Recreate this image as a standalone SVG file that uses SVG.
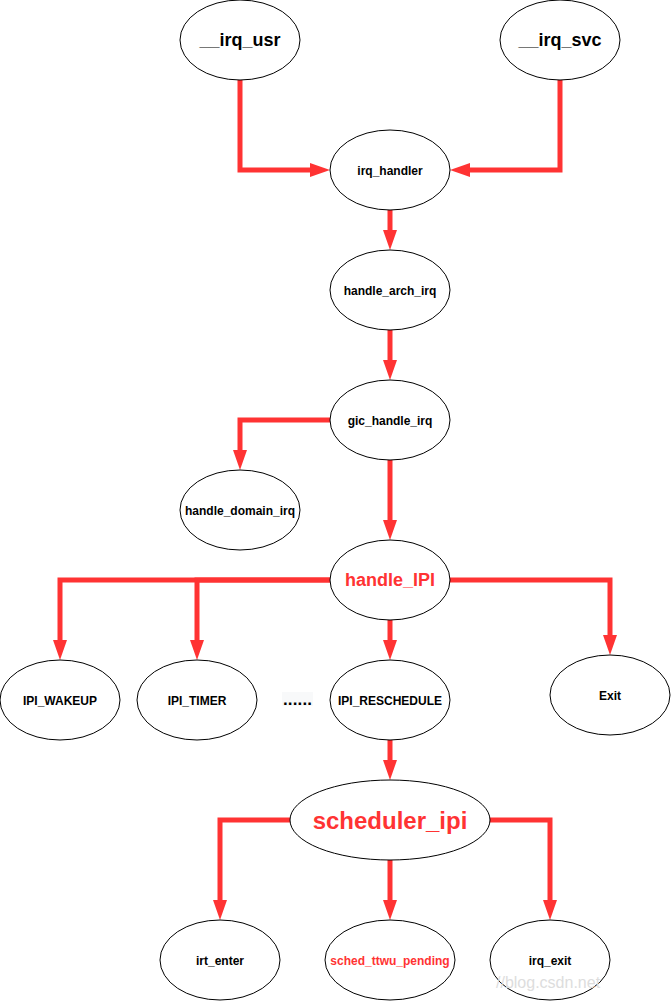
<svg xmlns="http://www.w3.org/2000/svg" width="671" height="1001" viewBox="0 0 671 1001">
<style>
.n{fill:#ffffff;stroke:#000000;stroke-width:1}
.t{font-family:"Liberation Sans",Arial,sans-serif;font-weight:bold;font-size:12px;fill:#000000;text-anchor:middle}
.big{font-size:18px}
.red{fill:#FF3333}
.e{fill:none;stroke:#FF3333;stroke-width:5;marker-end:url(#ah)}
</style>
<defs>
<marker id="ah" markerUnits="userSpaceOnUse" markerWidth="20" markerHeight="14" refX="5" refY="7" orient="auto">
<path d="M0,0 L20,7 L0,14 z" fill="#FF3333"/>
</marker>
</defs>
<rect width="671" height="1001" fill="#ffffff"/>
<g id="connectors">
<path class="e" d="M240,80 V170 H315"/>
<path class="e" d="M560,80 V170 H465"/>
<path class="e" d="M390,210 V235"/>
<path class="e" d="M390,330 V365"/>
<path class="e" d="M330,420 H240 V455"/>
<path class="e" d="M390,460 V525"/>
<path class="e" d="M330,580 H60 V645"/>
<path class="e" d="M330,580 H197 V645"/>
<path class="e" d="M390,620 V645"/>
<path class="e" d="M450,580 H610 V640"/>
<path class="e" d="M390,740 V765"/>
<path class="e" d="M290,820 H220 V905"/>
<path class="e" d="M390,860 V905"/>
<path class="e" d="M490,820 H550 V905"/>
</g>
<g id="irq_usr"><ellipse class="n" cx="240" cy="40" rx="60" ry="40"/><text class="t big" x="240" y="46">__irq_usr</text></g>
<g id="irq_svc"><ellipse class="n" cx="560" cy="40" rx="60" ry="40"/><text class="t big" x="560" y="46">__irq_svc</text></g>
<g id="irq_handler"><ellipse class="n" cx="390" cy="170" rx="60" ry="40"/><text class="t" x="390" y="175">irq_handler</text></g>
<g id="handle_arch_irq"><ellipse class="n" cx="390" cy="290" rx="60" ry="40"/><text class="t" x="390" y="295">handle_arch_irq</text></g>
<g id="gic_handle_irq"><ellipse class="n" cx="390" cy="420" rx="60" ry="40"/><text class="t" x="390" y="425">gic_handle_irq</text></g>
<g id="handle_domain_irq"><ellipse class="n" cx="240" cy="510" rx="60" ry="40"/><text class="t" x="240" y="515">handle_domain_irq</text></g>
<g id="handle_IPI"><ellipse class="n" cx="390" cy="580" rx="60" ry="40"/><text class="t big red" x="390" y="586">handle_IPI</text></g>
<g id="IPI_WAKEUP"><ellipse class="n" cx="60" cy="700" rx="60" ry="40"/><text class="t" x="60" y="705">IPI_WAKEUP</text></g>
<g id="IPI_TIMER"><ellipse class="n" cx="197" cy="700" rx="60" ry="40"/><text class="t" x="197" y="705">IPI_TIMER</text></g>
<g id="dots"><rect x="282" y="692" width="31" height="14" fill="#f8f9fa"/><text class="t" x="297.5" y="705" style="font-size:17px" textLength="29">......</text></g>
<g id="IPI_RESCHEDULE"><ellipse class="n" cx="390" cy="700" rx="60" ry="40"/><text class="t" x="390" y="705">IPI_RESCHEDULE</text></g>
<g id="Exit"><ellipse class="n" cx="610" cy="695" rx="60" ry="40"/><text class="t" x="610" y="700">Exit</text></g>
<g id="scheduler_ipi"><ellipse class="n" cx="390" cy="820" rx="100" ry="40"/><text class="t red" x="390" y="829" style="font-size:24px">scheduler_ipi</text></g>
<g id="irt_enter"><ellipse class="n" cx="220" cy="960" rx="60" ry="40"/><text class="t" x="220" y="965">irt_enter</text></g>
<g id="sched_ttwu_pending"><ellipse class="n" cx="390" cy="960" rx="65" ry="40"/><text class="t red" x="390" y="965">sched_ttwu_pending</text></g>
<g id="irq_exit"><ellipse class="n" cx="550" cy="960" rx="60" ry="40"/><text class="t" x="550" y="965">irq_exit</text></g>
<text x="496" y="988" style="font-family:'Liberation Sans',Arial,sans-serif;font-size:16px;fill:#dddddd">//blog.csdn.net</text>
</svg>
